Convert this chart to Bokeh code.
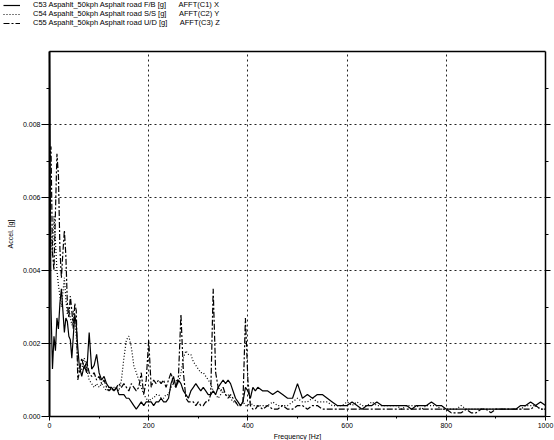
from bokeh.plotting import figure
from bokeh.models import (Range1d, LinearAxis, Legend, LegendItem, FixedTicker,
                          PrintfTickFormatter, CustomJSTickFormatter)
from bokeh.embed import file_html
from bokeh.resources import INLINE

# ---- data ----
freq = [0, 3, 6, 9, 12, 15, 18, 21, 24, 27, 30, 33, 36, 39, 42, 45, 48, 51, 54, 57, 60,
        65, 70, 75, 80, 85, 90, 95, 100, 105, 110, 115, 120, 125, 130, 135, 140, 145, 150,
        155, 160, 165, 170, 175, 180, 185, 190, 195, 200, 205, 210, 215, 220, 225, 230,
        235, 240, 245, 250, 255, 260, 265, 270, 275, 280, 285, 290, 295, 300, 305, 310,
        315, 320, 325, 330, 335, 340, 345, 350, 355, 360, 365, 370, 375, 380, 385, 390,
        395, 400, 405, 410, 415, 420,
        430, 440, 450, 460, 470, 480, 490, 500, 510, 520, 530, 540, 550, 560, 570, 580,
        590, 600, 610, 620, 630, 640, 650, 660, 670, 680, 690, 700, 710, 720, 730, 740,
        750, 760, 770, 780, 790, 800, 810, 820, 830, 840, 850, 860, 870, 880, 890, 900,
        910, 920, 930, 940, 950, 960, 970, 980, 990, 1000]

accel_x = [0.0100, 0.0030, 0.0013, 0.0022, 0.0018, 0.0027, 0.0024, 0.0031, 0.0035, 0.0029,
           0.0023, 0.0027, 0.0026, 0.0022, 0.0021, 0.0016, 0.0022, 0.0028, 0.0025, 0.0019,
           0.0014,
           0.0011, 0.0014, 0.0012, 0.0023, 0.0013, 0.0014, 0.0017, 0.0012, 0.0010, 0.0011,
           0.0009, 0.0008, 0.0008, 0.0007, 0.0008, 0.0006, 0.0006, 0.0006, 0.0005, 0.0005,
           0.0004, 0.0003, 0.0002, 0.0003, 0.0004, 0.0003, 0.0004, 0.0004, 0.0004, 0.0003,
           0.0004, 0.0004, 0.0005, 0.0004, 0.0004, 0.0005, 0.0009, 0.0011, 0.0008, 0.0010,
           0.0009, 0.0007, 0.0006, 0.0005, 0.0007, 0.0008, 0.0009, 0.0008, 0.0007, 0.0008,
           0.0007, 0.0006, 0.0006, 0.0007, 0.0006, 0.0008, 0.0009, 0.0010, 0.0009, 0.0010,
           0.0009, 0.0007, 0.0005, 0.0004, 0.0003, 0.0004, 0.0008, 0.0007, 0.0005, 0.0008,
           0.0007, 0.0008,
           0.0007, 0.0007, 0.0006, 0.0007, 0.0006, 0.0005, 0.0005, 0.0009, 0.0005, 0.0006,
           0.0005, 0.0006, 0.0006, 0.0005, 0.0004, 0.0003, 0.0003, 0.0003, 0.0004, 0.0003,
           0.0002, 0.0003, 0.0003, 0.0004, 0.0003, 0.0003, 0.0003, 0.0003, 0.0003, 0.0003,
           0.0002, 0.0003, 0.0003, 0.0003, 0.0004, 0.0003, 0.0003, 0.0002, 0.0002, 0.0002,
           0.0002, 0.0002, 0.0002, 0.0002, 0.0002, 0.0002, 0.0002, 0.0002, 0.0002, 0.0002,
           0.0002, 0.0002, 0.0003, 0.0003, 0.0004, 0.0003, 0.0004, 0.0003]

accel_y = [0.0060, 0.0050, 0.0044, 0.0055, 0.0048, 0.0040, 0.0036, 0.0033, 0.0030, 0.0034,
           0.0038, 0.0032, 0.0028, 0.0030, 0.0027, 0.0025, 0.0029, 0.0026, 0.0022, 0.0014,
           0.0012,
           0.0013, 0.0016, 0.0013, 0.0010, 0.0009, 0.0008, 0.0009, 0.0008, 0.0009, 0.0008,
           0.0007, 0.0008, 0.0007, 0.0008, 0.0008, 0.0007, 0.0010, 0.0016, 0.0021, 0.0022,
           0.0019, 0.0014, 0.0012, 0.0010, 0.0008, 0.0006, 0.0005, 0.0004, 0.0005, 0.0005,
           0.0006, 0.0006, 0.0005, 0.0005, 0.0006, 0.0006, 0.0008, 0.0009, 0.0010, 0.0009,
           0.0012, 0.0016, 0.0018, 0.0017, 0.0017, 0.0015, 0.0014, 0.0013, 0.0012, 0.0012,
           0.0011, 0.0010, 0.0009, 0.0007, 0.0006, 0.0005, 0.0006, 0.0007, 0.0006, 0.0006,
           0.0005, 0.0004, 0.0004, 0.0003, 0.0003, 0.0004, 0.0003, 0.0003, 0.0004, 0.0003,
           0.0003, 0.0003,
           0.0003, 0.0003, 0.0004, 0.0003, 0.0003, 0.0003, 0.0004, 0.0005, 0.0004, 0.0004,
           0.0005, 0.0004, 0.0004, 0.0004, 0.0003, 0.0003, 0.0003, 0.0004, 0.0003, 0.0004,
           0.0003, 0.0003, 0.0004, 0.0003, 0.0003, 0.0003, 0.0003, 0.0003, 0.0002, 0.0003,
           0.0003, 0.0003, 0.0002, 0.0003, 0.0003, 0.0003, 0.0002, 0.0002, 0.0002, 0.0002,
           0.0003, 0.0002, 0.0002, 0.0002, 0.0002, 0.0002, 0.0002, 0.0002, 0.0002, 0.0002,
           0.0002, 0.0002, 0.0002, 0.0003, 0.0003, 0.0003, 0.0002, 0.0002]

accel_z = [0.0070, 0.0074, 0.0045, 0.0040, 0.0056, 0.0072, 0.0066, 0.0046, 0.0038, 0.0045,
           0.0051, 0.0044, 0.0031, 0.0027, 0.0033, 0.0029, 0.0024, 0.0031, 0.0029, 0.0010,
           0.0012,
           0.0016, 0.0013, 0.0015, 0.0012, 0.0011, 0.0012, 0.0010, 0.0011, 0.0009, 0.0010,
           0.0008, 0.0007, 0.0008, 0.0007, 0.0008, 0.0009, 0.0008, 0.0009, 0.0008, 0.0007,
           0.0009, 0.0008, 0.0007, 0.0008, 0.0012, 0.0006, 0.0010, 0.0021, 0.0008, 0.0010,
           0.0009, 0.0010, 0.0009, 0.0010, 0.0008, 0.0010, 0.0012, 0.0009, 0.0008, 0.0011,
           0.0028, 0.0012, 0.0005, 0.0004, 0.0004, 0.0004, 0.0003, 0.0004, 0.0003, 0.0003,
           0.0004, 0.0004, 0.0006, 0.0035, 0.0012, 0.0008, 0.0007, 0.0008, 0.0006, 0.0005,
           0.0006, 0.0005, 0.0004, 0.0003, 0.0003, 0.0004, 0.0027, 0.0010, 0.0003, 0.0002,
           0.0002, 0.0003,
           0.0002, 0.0003, 0.0002, 0.0002, 0.0003, 0.0002, 0.0002, 0.0003, 0.0003, 0.0002,
           0.0003, 0.0003, 0.0002, 0.0002, 0.0002, 0.0002, 0.0002, 0.0002, 0.0002, 0.0002,
           0.0002, 0.0002, 0.0002, 0.0002, 0.0002, 0.0002, 0.0002, 0.0002, 0.0002, 0.0002,
           0.0002, 0.0002, 0.0002, 0.0002, 0.0002, 0.0002, 0.0002, 0.0002, 0.0001, 0.0001,
           0.0001, 0.0002, 0.0001, 0.0001, 0.0002, 0.0002, 0.0001, 0.0002, 0.0002, 0.0002,
           0.0002, 0.0002, 0.0002, 0.0002, 0.0002, 0.0003, 0.0002, 0.0002]

series_names = ["C53 Aspahlt_50kph Asphalt road F/B [g]",
                "C54 Aspahlt_50kph Asphalt road S/S [g]",
                "C55 Aspahlt_50kph Asphalt road U/D [g]"]
series_tags = ["AFFT(C1) X", "AFFT(C2) Y", "AFFT(C3) Z"]

x_lim = (0, 1000)
y_lim = (0.0, 0.010)
x_major = [0, 200, 400, 600, 800, 1000]
x_minor = [100, 300, 500, 700, 900]
y_major = [0.000, 0.002, 0.004, 0.006, 0.008]
y_minor = [0.001, 0.003, 0.005, 0.007, 0.009]
x_grid = [200, 400, 600, 800]
y_grid = [0.002, 0.004, 0.006, 0.008]

# ---- layout (pixels) ----
FONT = "Liberation Sans"
W, H = 554, 440
PLOT_L, PLOT_R, PLOT_T, PLOT_B = 49, 545, 51, 416   # plot box inside the canvas
kx = (PLOT_R - PLOT_L) / (x_lim[1] - x_lim[0])
ky = (PLOT_B - PLOT_T) / (y_lim[1] - y_lim[0])
x_range = Range1d(x_lim[0] - PLOT_L / kx, x_lim[1] + (W - PLOT_R) / kx)
y_range = Range1d(y_lim[0] - (H - PLOT_B) / ky, y_lim[1] + PLOT_T / ky)

p = figure(width=W, height=H, output_backend="svg", toolbar_location=None,
           x_range=x_range, y_range=y_range, min_border=0,
           background_fill_color="white", border_fill_color="white")
p.outline_line_color = None


def style_axis(ax):
    ax.axis_line_color = "black"
    ax.major_tick_line_color = "black"
    ax.minor_tick_line_color = "black"
    ax.major_label_text_font = FONT
    ax.major_label_text_font_size = "7px"
    ax.major_label_text_color = "black"
    ax.axis_label_text_font = FONT
    ax.axis_label_text_font_size = "7px"
    ax.axis_label_text_font_style = "normal"
    ax.axis_label_text_color = "black"


xa = p.xaxis[0]
ya = p.yaxis[0]
style_axis(xa)
style_axis(ya)

ya.fixed_location = x_lim[0]
ya.bounds = y_lim
ya.ticker = FixedTicker(ticks=y_major, minor_ticks=y_minor)
ya.formatter = PrintfTickFormatter(format="%.3f")
ya.axis_line_width = 2
ya.major_tick_out = 8
ya.major_tick_in = 0
ya.minor_tick_out = 3
ya.minor_tick_in = 0
ya.major_label_standoff = 1
ya.axis_label = "Accel. [g]"
ya.axis_label_standoff = 6

xa.fixed_location = y_lim[0]
xa.bounds = x_lim
xa.ticker = FixedTicker(ticks=x_major, minor_ticks=x_minor)
xa.axis_line_width = 1.5
xa.major_tick_out = 4
xa.major_tick_in = 0
xa.minor_tick_out = 2
xa.minor_tick_in = 0
xa.major_label_standoff = 2
xa.axis_label = "Frequency [Hz]"
xa.axis_label_standoff = 2

right = LinearAxis(fixed_location=x_lim[1], bounds=y_lim,
                   ticker=FixedTicker(ticks=y_major, minor_ticks=y_minor),
                   formatter=CustomJSTickFormatter(code="return ''"),
                   major_tick_out=5, major_tick_in=0, minor_tick_out=3, minor_tick_in=0,
                   axis_line_color="black", axis_line_width=1.5,
                   major_tick_line_color="black", minor_tick_line_color="black")
p.add_layout(right, "right")

top = LinearAxis(fixed_location=y_lim[1], bounds=x_lim,
                 ticker=FixedTicker(ticks=[]),
                 axis_line_color="black", axis_line_width=1.5,
                 major_tick_line_color=None, minor_tick_line_color=None)
p.add_layout(top, "above")

# grid (dotted), confined to the plot box
p.xgrid.ticker = FixedTicker(ticks=x_grid)
p.ygrid.ticker = FixedTicker(ticks=y_grid)
grid_ok = True
try:
    p.xgrid[0].cross_bounds = y_lim
    p.ygrid[0].cross_bounds = x_lim
except Exception:
    grid_ok = False
if grid_ok:
    for g in (p.xgrid[0], p.ygrid[0]):
        g.grid_line_color = "#222222"
        g.grid_line_dash = "2 3"
        g.grid_line_width = 1
else:
    p.xgrid.visible = False
    p.ygrid.visible = False
    p.segment(x0=x_grid, y0=[y_lim[0]] * len(x_grid), x1=x_grid, y1=[y_lim[1]] * len(x_grid),
              line_color="#222222", line_dash="2 3", line_width=1)
    p.segment(x0=[x_lim[0]] * len(y_grid), y0=y_grid, x1=[x_lim[1]] * len(y_grid), y1=y_grid,
              line_color="#222222", line_dash="2 3", line_width=1)

# series
r1 = p.line(freq, accel_x, line_color="black", line_width=1.2)
r2 = p.line(freq, accel_y, line_color="black", line_width=1.2, line_dash="1 2")
r3 = p.line(freq, accel_z, line_color="black", line_width=1.2, line_dash="6 2 2 2")

# legend block at the top-left of the canvas; channel tag after a run of no-break spaces
GAP = "\u00a0" * 6
labels = [name + GAP + tag for name, tag in zip(series_names, series_tags)]
legend = Legend(items=[LegendItem(label=labels[0], renderers=[r1]),
                       LegendItem(label=labels[1], renderers=[r2]),
                       LegendItem(label=labels[2], renderers=[r3])],
                location=(3, H - 27),
                label_text_font=FONT, label_text_font_size="7.5px", label_text_color="black",
                label_height=8, glyph_height=8, glyph_width=17, label_standoff=13,
                spacing=0, padding=0, margin=0, border_line_color=None,
                background_fill_alpha=0)
p.add_layout(legend, "center")

open("out.html", "w").write(file_html(p, INLINE))
